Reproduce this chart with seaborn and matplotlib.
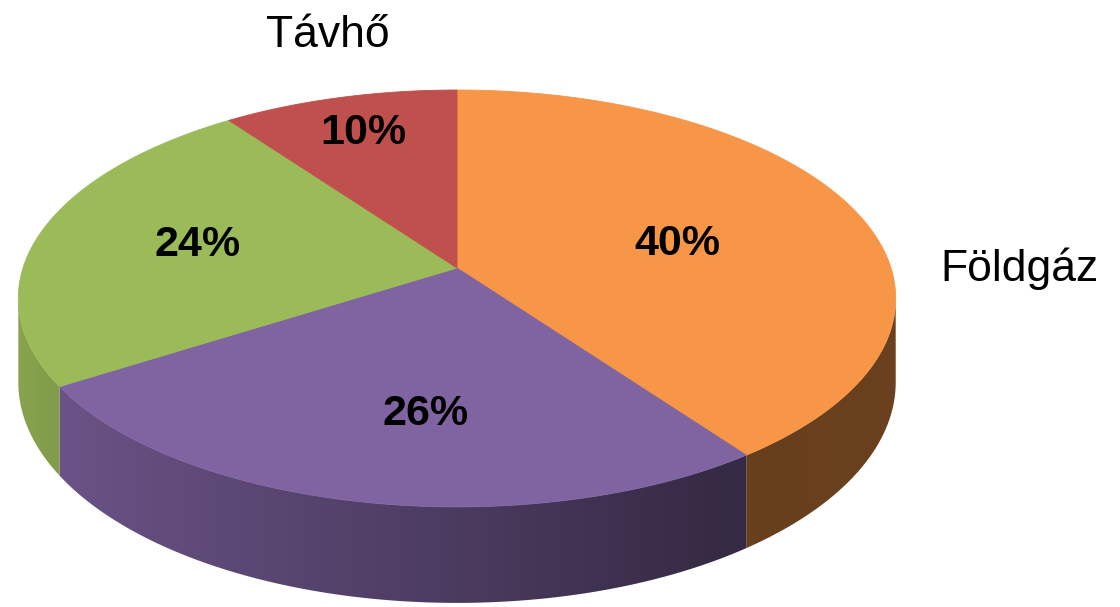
import numpy as np
import matplotlib
matplotlib.use("Agg")
import matplotlib.pyplot as plt
import seaborn as sns
from matplotlib.patches import Polygon
from matplotlib.colors import to_rgb

# Data (clockwise from 12 o'clock)
labels = ["Földgáz", "", "", "Távhő"]
values = [40, 26, 24, 10]
pct_labels = ["40%", "26%", "24%", "10%"]
colors = ["#F79646", "#8064A2", "#9BBB59", "#C0504D"]

# label placement along each slice (radius fraction, angle nudge in degrees)
label_r = [0.53, 0.65, 0.62, 0.77]
label_nudge = [5, -5, 0, 0]

sns.set_theme(style="white")
plt.rcParams["font.family"] = ["Liberation Sans", "DejaVu Sans"]

# perspective disc geometry (pixels)
CX, CY = 457, 268
A, B, P = 434, 204, 0.146
DEPTH = 82
W, H = 1120, 607


def project(theta, r=1.0, drop=0.0):
    u = r * np.sin(theta)
    v = -r * np.cos(theta)
    w = 1 - P * v
    return CX + A * u / w, CY + (B * v + drop) / w


def shade(x):
    return np.interp(x, [17, 60, 200, 457, 720, 895],
                     [0.88, 0.83, 0.74, 0.59, 0.42, 0.43])


fig = plt.figure(figsize=(11.2, 6.07), dpi=100)
ax = fig.add_axes([0, 0, 1, 1])
ax.set_xlim(0, W)
ax.set_ylim(H, 0)
ax.axis("off")

frac = np.array(values, dtype=float) / sum(values)
edges = np.concatenate([[0], np.cumsum(frac)]) * 2 * np.pi
mids = (edges[:-1] + edges[1:]) / 2

# visible front part of the rim lies between the two silhouette points
vis_lo = np.pi - np.arccos(P)
vis_hi = np.pi + np.arccos(P)

# side walls with a horizontal gradient
xgrid = np.arange(W) + 0.5
for i in range(len(values)):
    t0 = max(edges[i], vis_lo)
    t1 = min(edges[i + 1], vis_hi)
    if t1 <= t0:
        continue
    th = np.linspace(t0, t1, 300)
    xt, yt = project(th)
    xb, yb = project(th[::-1], drop=DEPTH)
    wall = Polygon(np.column_stack([np.concatenate([xt, xb]),
                                    np.concatenate([yt, yb])]),
                   closed=True, facecolor="none", edgecolor="none")
    ax.add_patch(wall)
    base = np.array(to_rgb(colors[i]))
    img = np.clip(base[None, None, :] * shade(xgrid)[None, :, None], 0, 1)
    im = ax.imshow(img, extent=[0, W, H, 0], aspect="auto",
                   interpolation="bilinear", zorder=2)
    im.set_clip_path(wall)

# top surface
for i in range(len(values)):
    th = np.linspace(edges[i], edges[i + 1], 200)
    xs, ys = project(th)
    ax.fill(np.concatenate([[CX], xs]), np.concatenate([[CY], ys]),
            color=colors[i], lw=0.6, ec=colors[i], zorder=3)

# percentage labels
for i, txt in enumerate(pct_labels):
    lx, ly = project(mids[i] + np.radians(label_nudge[i]), r=label_r[i])
    ax.text(lx, ly, txt, ha="center", va="center", fontsize=31,
            fontweight="bold", color="black", zorder=5)

# category labels
ax.text(328, 47, labels[3], ha="center", va="baseline", fontsize=32, color="black")
ax.text(940, 281, labels[0], ha="left", va="baseline", fontsize=32, color="black")

ax.set_xlim(0, W)
ax.set_ylim(H, 0)
fig.savefig("out.png", dpi=100, facecolor="white")
